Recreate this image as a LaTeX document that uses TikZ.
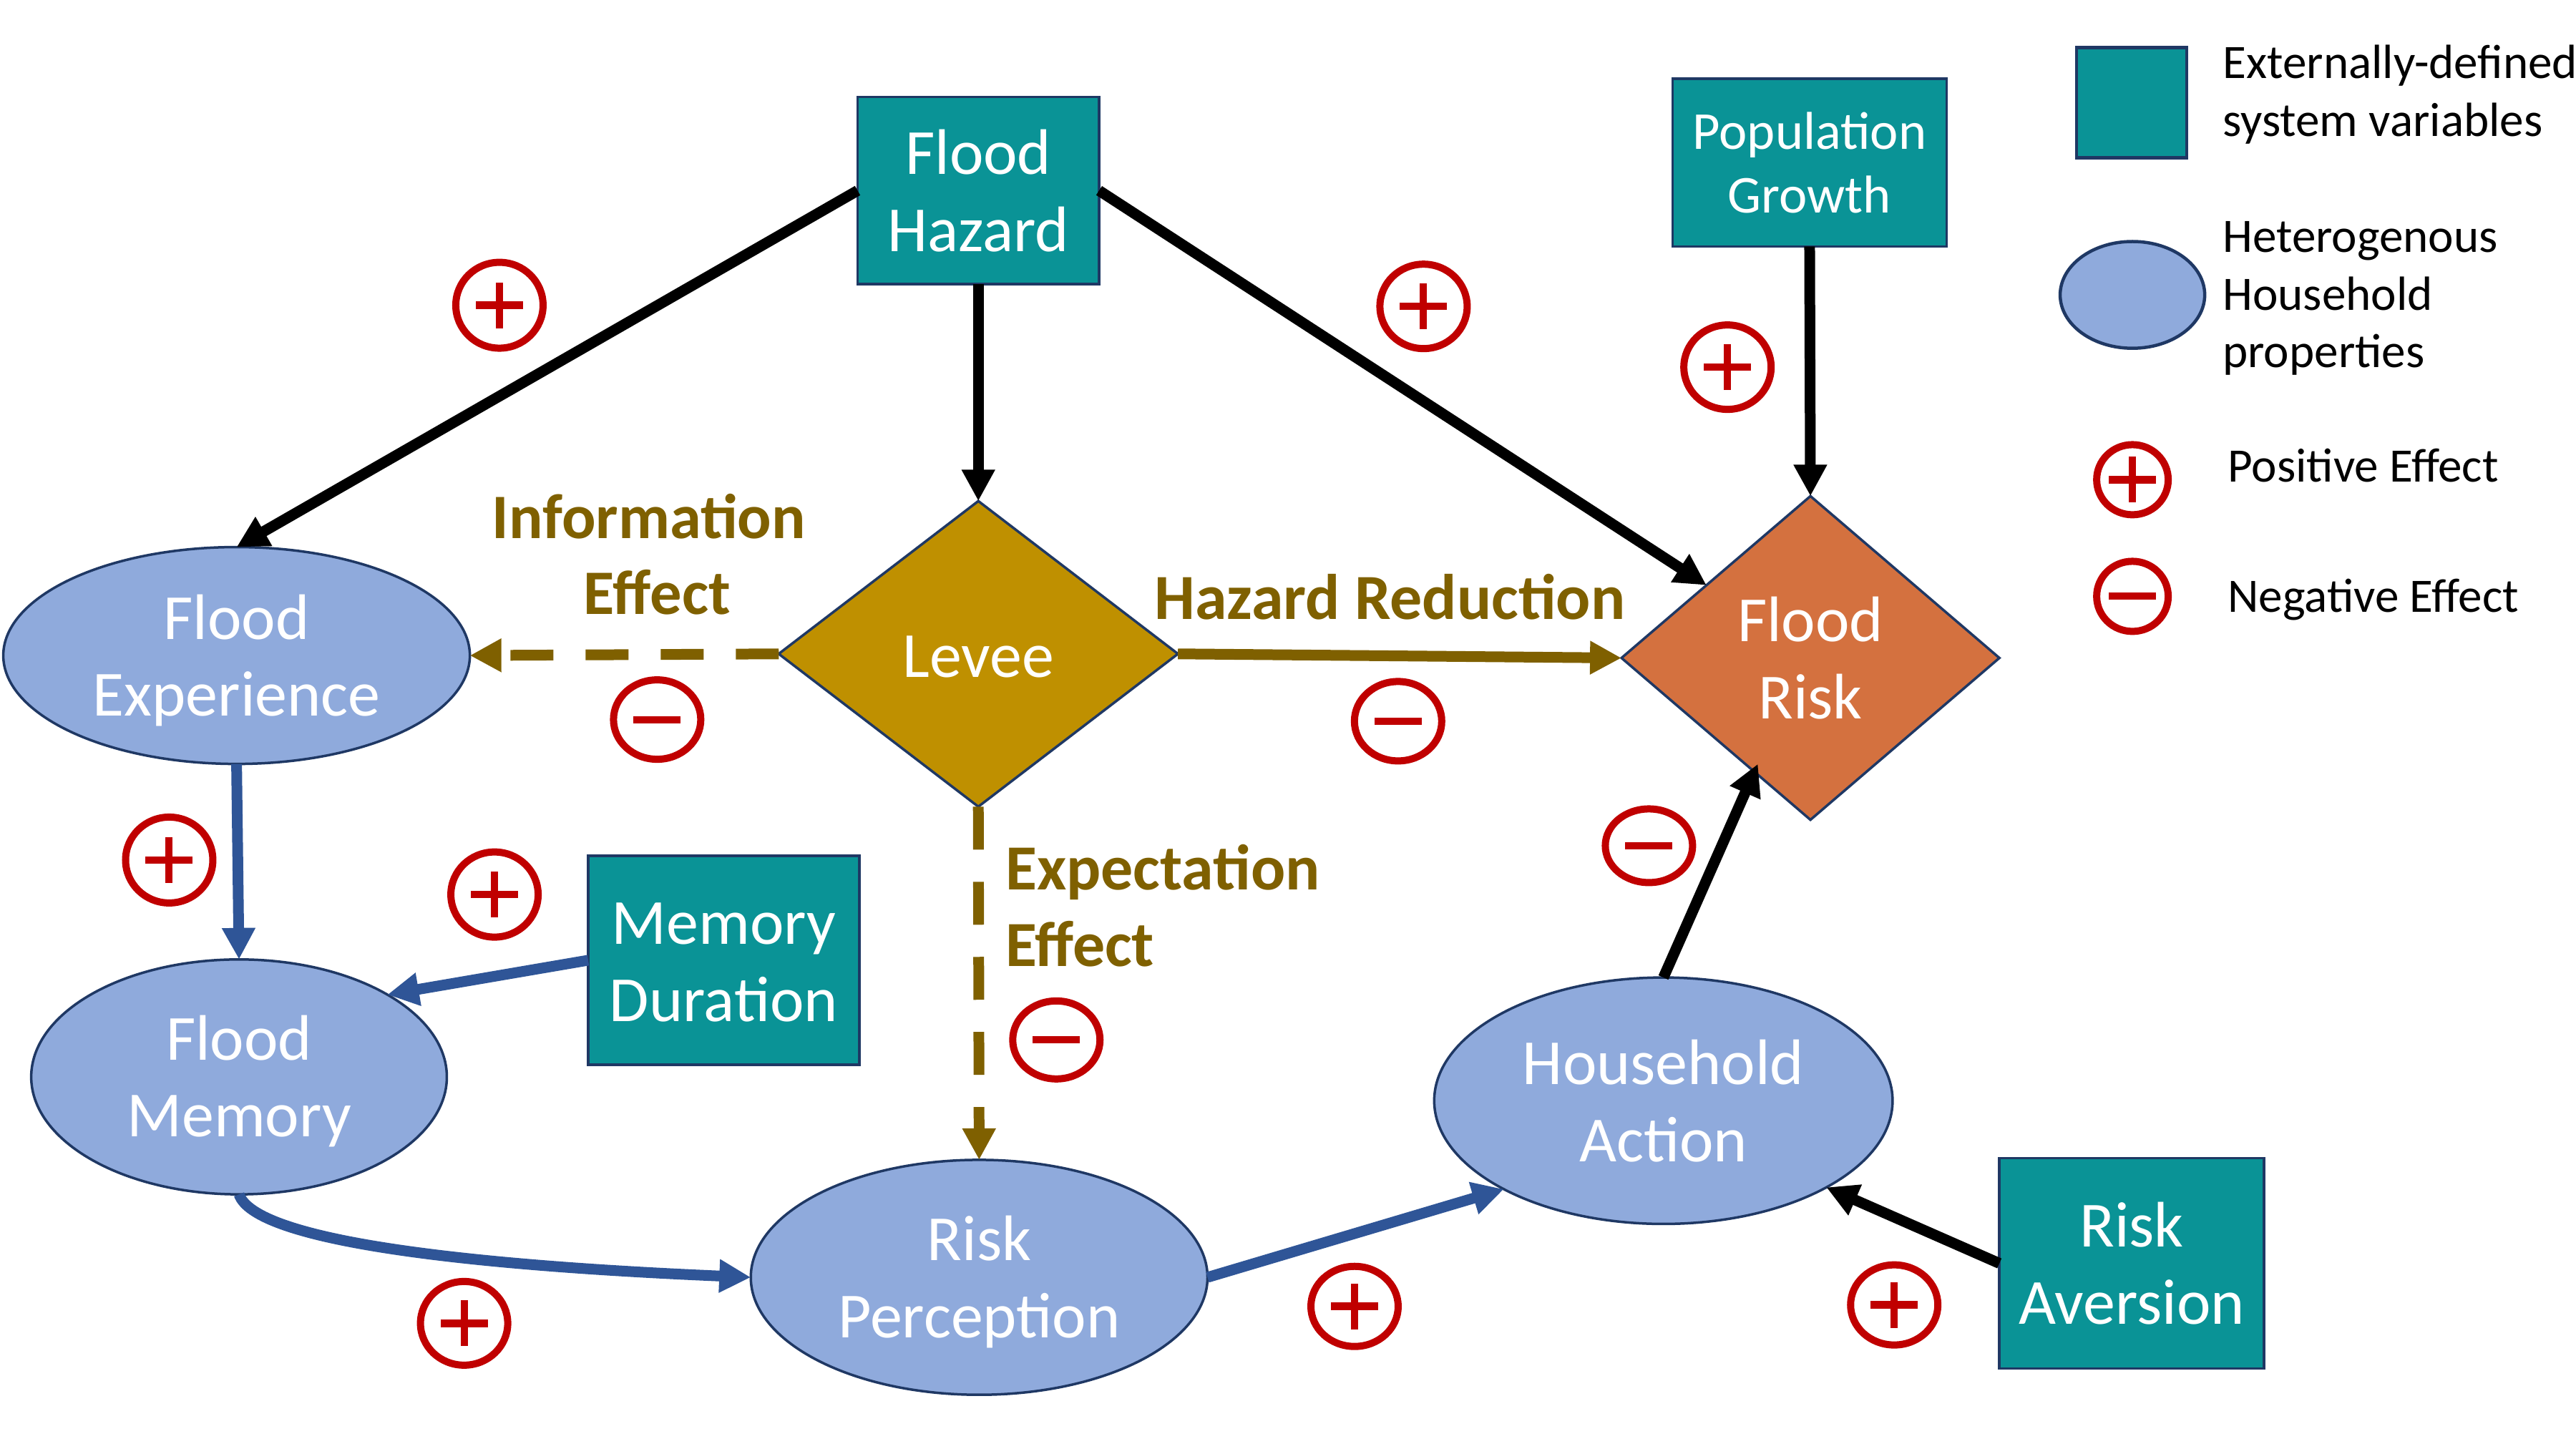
\documentclass[tikz,border=0pt]{standalone}
\usepackage{fontspec}
\setmainfont{Carlito}
\usetikzlibrary{shapes.geometric,arrows.meta}
\definecolor{tealc}{HTML}{0A9396}
\definecolor{bluec}{HTML}{8FAADC}
\definecolor{goldc}{HTML}{BF9000}
\definecolor{orangec}{HTML}{D4713F}
\definecolor{brownc}{HTML}{7F6000}
\definecolor{darkbl}{HTML}{2F5597}
\definecolor{edgec}{HTML}{1F3864}
\definecolor{redc}{HTML}{C00000}
\def\uu{0.022959cm}
\newcommand\lifted[1]{\rule{0pt}{#1pt}}
\tikzset{
  x=\uu, y=-\uu,
  base/.style={draw=edgec,line width=0.035cm,inner sep=0pt,outer sep=0pt,text=white,align=center,font=\fontsize{25.6}{30.7}\selectfont},
  sysbox/.style={base,rectangle,fill=tealc},
  hhold/.style={base,ellipse,fill=bluec},
  gate/.style={base,diamond,fill=goldc},
  effect/.style={inner sep=0pt,outer sep=0pt,text=brownc,font=\fontsize{25.6}{30.6}\selectfont\bfseries,align=center},
  legendtext/.style={inner sep=0pt,outer sep=0pt,anchor=west,align=left,text=black,font=\fontsize{19.1}{22.9}\selectfont},
  conn/.style={line width=0.15cm,-{Triangle[length=0.44cm,width=0.44cm]}},
  blackarrow/.style={conn,draw=black},
  bluearrow/.style={conn,draw=darkbl},
  brownarrow/.style={conn,draw=brownc},
  browndash/.style={brownarrow,dash pattern=on 0.6cm off 0.45cm},
  ring/.style={ellipse,draw=redc,fill=white,line width=0.1cm,inner sep=0pt,outer sep=0pt,minimum width=1.22cm,minimum height=1.17cm},
  plusring/.style={ring,path picture={\fill[redc] (path picture bounding box.center) ++(-0.33cm,-0.053cm) rectangle ++(0.66cm,0.106cm);
     \fill[redc] (path picture bounding box.center) ++(-0.05cm,-0.32cm) rectangle ++(0.10cm,0.64cm);}},
  minusring/.style={ring,path picture={\fill[redc] (path picture bounding box.center) ++(-0.33cm,-0.05cm) rectangle ++(0.66cm,0.10cm);}},
  smallring/.style={line width=0.1cm,minimum width=1.0cm,minimum height=0.98cm},
}
\begin{document}
\begin{tikzpicture}
\useasboundingbox (0,0) rectangle (1568,882);
\fill[white] (0,0) rectangle (1568,882);
% system boxes
\node[sysbox,minimum width=147*\uu,minimum height=114*\uu] (hazard) at (595.5,116) {Flood\\Hazard};
\node[sysbox,minimum width=167*\uu,minimum height=102*\uu,font=\fontsize{21.2}{25.4}\selectfont] (growth) at (1101.5,99) {Population\\Growth};
\node[sysbox,minimum width=165*\uu,minimum height=127*\uu] (duration) at (440.5,584.5) {\lifted{17.9}Memory\\Duration};
\node[sysbox,minimum width=161*\uu,minimum height=128*\uu] (aversion) at (1297.5,769) {Risk\\Aversion};
% household
\node[hhold,minimum width=284*\uu,minimum height=132*\uu] (exper) at (144,399) {\lifted{21.7}Flood\\Experience};
\node[hhold,minimum width=253*\uu,minimum height=143*\uu] (memory) at (145.5,655.5) {\lifted{21.2}Flood\\Memory};
\node[hhold,minimum width=278*\uu,minimum height=143*\uu] (percep) at (596,777.5) {\lifted{21.2}Risk\\Perception};
\node[hhold,minimum width=279*\uu,minimum height=150*\uu] (action) at (1012.5,670) {Household\\Action};
% diamonds
\node[gate,shape aspect=1.3,minimum width=243*\uu,minimum height=186*\uu] (levee) at (595.5,398) {\lifted{18.7}Levee};
\node[gate,fill=orangec,shape aspect=1.17,minimum width=230*\uu,minimum height=197*\uu] (frisk) at (1102,400.5) {Flood\\Risk};
% arrow ends that stop inside the diamond's outline
\coordinate (riskin) at (1070,465);
% connectors
\draw[blackarrow] (hazard.west) -- (exper.north);
\draw[blackarrow] (hazard.south) -- (levee.north);
\draw[blackarrow] (hazard.east) -- (frisk.145);
\draw[blackarrow] (growth.south) -- (frisk.north);
\draw[browndash] (levee.west) -- (exper.east);
\draw[brownarrow] (levee.east) -- (frisk.west);
\draw[browndash] (levee.south) -- (percep.north);
\draw[bluearrow] (exper.south) -- (memory.north);
\draw[bluearrow] (duration.west) -- (memory.29);
\draw[bluearrow] (memory.south) .. controls (155,755) and (280,770) .. (percep.west);
\draw[bluearrow] (percep.east) -- (action.209);
\draw[blackarrow] (action.north) -- (riskin);
\draw[blackarrow] (aversion.west) -- (action.-28);
% effect labels
\node[effect,font=\fontsize{25.2}{30}\selectfont\bfseries] (infolabel) at (395,337.5) {Information\\\hspace*{6.5pt}Effect};
\node[effect] (hazlabel) at (846,363.2) {Hazard Reduction};
\node[effect,align=left,anchor=west] (explabel) at (612,551.3) {Expectation\\Effect};
% signs
\node[plusring,minimum height=1.20cm] (p1) at (304,185.8) {};
\node[plusring,minimum height=1.18cm] (p2) at (866.5,186.5) {};
\node[plusring,minimum height=1.18cm] (p3) at (1051.5,223.5) {};
\node[plusring,minimum height=1.20cm] (p4) at (103,523.5) {};
\node[plusring,minimum height=1.19cm] (p5) at (301,544.5) {};
\node[plusring,minimum height=1.17cm] (p6) at (282.5,805.5) {};
\node[plusring,minimum height=1.12cm] (p7) at (824.5,795.2) {};
\node[plusring,minimum height=1.12cm] (p8) at (1153,794.3) {};
\node[minusring,minimum height=1.11cm] (m1) at (400,438) {};
\node[minusring,minimum height=1.11cm] (m2) at (851,439) {};
\node[minusring,minimum height=1.03cm] (m3) at (1003.7,514.8) {};
\node[minusring,minimum height=1.09cm] (m4) at (643,633) {};
% legend
\node[sysbox,line width=0.045cm,minimum width=67*\uu,minimum height=67*\uu] (legbox) at (1297.5,62.5) {};
\node[hhold,line width=0.045cm,minimum width=88*\uu,minimum height=65*\uu] (legell) at (1298,179.5) {};
\node[plusring,smallring] (legplus) at (1298,292) {};
\node[minusring,smallring] (legminus) at (1298,363) {};
\node[legendtext] (t1) at (1353,57.5) {Externally-defined\\system variables};
\node[legendtext] (t2) at (1353,181.7) {Heterogenous\\Household\\properties};
\node[legendtext] (t3) at (1356,283.2) {Positive Effect};
\node[legendtext] (t4) at (1356,365) {Negative Effect};
\end{tikzpicture}
\end{document}
